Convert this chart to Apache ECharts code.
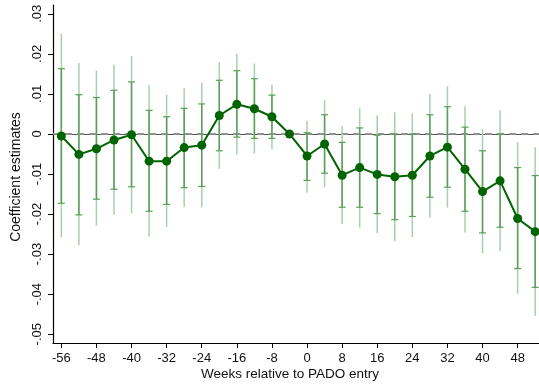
<!DOCTYPE html>
<html><head><meta charset="utf-8">
<script src="https://cdn.jsdelivr.net/npm/echarts@6/dist/echarts.min.js"></script>
<style>html,body{margin:0;padding:0;background:#fff}#c{width:539px;height:386px}</style>
</head><body><div id="c"></div>
<script>
const weeks = [-56,-52,-48,-44,-40,-36,-32,-28,-24,-20,-16,-12,-8,-4,0,4,8,12,16,20,24,28,32,36,40,44,48,52];
const estimates = [-0.0005,-0.0051,-0.0037,-0.0015,-0.0002,-0.0068,-0.0068,-0.0034,-0.0028,0.0046,0.0074,0.0063,0.0043,0,-0.0055,-0.0025,-0.0103,-0.0084,-0.0101,-0.0107,-0.0103,-0.0055,-0.0033,-0.0088,-0.0144,-0.0117,-0.0211,-0.0244];
const outerHi = [0.025,0.0177,0.0158,0.0173,0.0195,0.0122,0.0098,0.0114,0.0128,0.0179,0.02,0.0176,0.0123,null,0.0033,0.0085,0.002,0.0064,0.0047,0.0054,0.0052,0.01,0.0119,0.0069,0.0012,0.0059,-0.0021,-0.0033];
const outerLo = [-0.0258,-0.0278,-0.0229,-0.0202,-0.0198,-0.0257,-0.0232,-0.0183,-0.0183,-0.0087,-0.0051,-0.0049,-0.0038,null,-0.0147,-0.0133,-0.0225,-0.0234,-0.0248,-0.0268,-0.0258,-0.0209,-0.0184,-0.0246,-0.0298,-0.0292,-0.0399,-0.0454];
const innerHi = [0.0163,0.0098,0.0091,0.0109,0.013,0.0059,0.0043,0.0064,0.0075,0.0134,0.0158,0.0138,0.0097,null,0.0003,0.0048,-0.0021,0.0015,-0.0003,0.0,0.0,0.0048,0.0068,0.0017,-0.0042,0.0,-0.0084,-0.0104];
const innerLo = [-0.0173,-0.0202,-0.0163,-0.0138,-0.0132,-0.0193,-0.0176,-0.0134,-0.0131,-0.0042,-0.0008,-0.0011,-0.0011,null,-0.0116,-0.0098,-0.0183,-0.0183,-0.0199,-0.0214,-0.0206,-0.0158,-0.0133,-0.0193,-0.0247,-0.0233,-0.0336,-0.0383];
const xTicks = [-56,-48,-40,-32,-24,-16,-8,0,8,16,24,32,40,48];
const yTicks = [-0.05,-0.04,-0.03,-0.02,-0.01,0,0.01,0.02,0.03];
const yTickLabels = ['-.05','-.04','-.03','-.02','-.01','0','.01','.02','.03'];

const FONT = '"Liberation Sans", Arial, Helvetica, sans-serif';
const chart = echarts.init(document.getElementById('c'), null, {renderer:'canvas'});

const outerData = [], innerData = [];
weeks.forEach((w,i)=>{
  if (outerHi[i] !== null) outerData.push([w, outerLo[i], outerHi[i]]);
  if (innerHi[i] !== null) innerData.push([w, innerLo[i], innerHi[i]]);
});

function barRenderer(color, cap) {
  return function(params, api) {
    const x = api.value(0);
    const lo = api.coord([x, api.value(1)]);
    const hi = api.coord([x, api.value(2)]);
    const children = [{
      type:'line', shape:{x1:lo[0], y1:lo[1], x2:hi[0], y2:hi[1]},
      style:{stroke:color, lineWidth:1.5}
    }];
    if (cap) {
      children.push({type:'line', shape:{x1:lo[0]-3.5, y1:lo[1], x2:lo[0]+3.5, y2:lo[1]}, style:{stroke:color, lineWidth:1.2}});
      children.push({type:'line', shape:{x1:hi[0]-3.5, y1:hi[1], x2:hi[0]+3.5, y2:hi[1]}, style:{stroke:color, lineWidth:1.2}});
    }
    return {type:'group', children};
  };
}

chart.setOption({
  animation:false,
  grid:{left:53, right:0, top:5, bottom:43, containLabel:false},
  xAxis:[{
    type:'value', min:-57.9, max:52.87,
    axisLine:{show:true, onZero:false, lineStyle:{color:'#000', width:1.2}},
    axisTick:{show:true, length:5, customValues:xTicks, lineStyle:{color:'#000'}},
    axisLabel:{customValues:xTicks, color:'#111', fontFamily:FONT, fontSize:13, margin:9},
    splitLine:{show:false}
  },{
    type:'value', position:'top', min:-57.9, max:52.87,
    axisLine:{show:true, lineStyle:{color:'#555', width:1.2}},
    axisTick:{show:false}, axisLabel:{show:false}, splitLine:{show:false}
  }],
  yAxis:{
    type:'value', min:-0.0522, max:0.0322,
    axisLine:{show:true, onZero:false, lineStyle:{color:'#000', width:1.2}},
    axisTick:{show:true, length:5, customValues:yTicks, lineStyle:{color:'#000'}},
    axisLabel:{customValues:yTicks, rotate:90, color:'#111', fontFamily:FONT, fontSize:13, margin:9,
      formatter:function(v){ const i = yTicks.findIndex(t=>Math.abs(t-v)<1e-9); return i>=0 ? yTickLabels[i] : ''; }},
    splitLine:{show:false},
    name:'Coefficient estimates', nameLocation:'middle', nameGap:26, nameRotate:90,
    nameTextStyle:{color:'#111', fontFamily:FONT, fontSize:14, padding:[0,0,0,-6]}
  },
  graphic:[{
    type:'text', x:290, y:374,
    style:{text:'Weeks relative to PADO entry', fill:'#111', font:'13.5px '+FONT, textAlign:'center', textVerticalAlign:'middle'}
  }],
  series:[
    {type:'line', data:[[-57.9,0],[52.87,0]], symbol:'none', silent:true,
     lineStyle:{color:'#999', width:1.8, type:[7,5]}, z:1},
    {type:'custom', renderItem:barRenderer('#a9d0a9', false), data:outerData, z:2},
    {type:'custom', renderItem:barRenderer('#5a9e5a', true), data:innerData, z:3},
    {type:'line', data:weeks.map((w,i)=>[w, estimates[i]]), symbol:'circle', symbolSize:9,
     itemStyle:{color:'#006400'}, lineStyle:{color:'#006400', width:2}, z:4}
  ]
});
</script></body></html>
